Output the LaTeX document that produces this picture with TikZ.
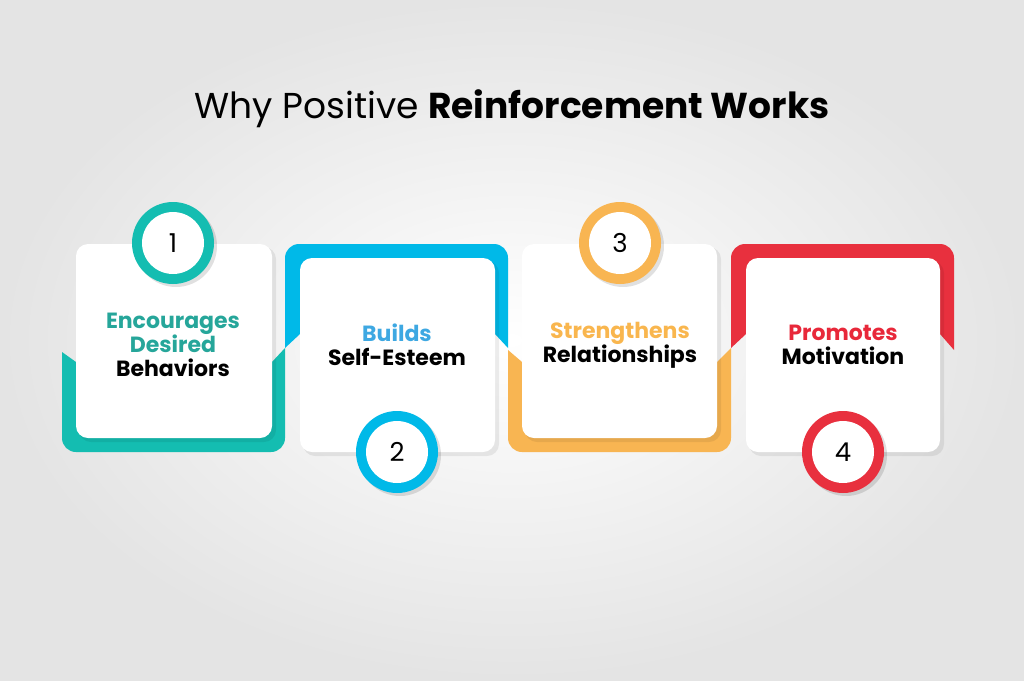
\documentclass[tikz,border=0pt]{standalone}
\usepackage{fontspec}
\setmainfont{Poppins}
\definecolor{cteal}{HTML}{14BDB1}
\definecolor{tteal}{HTML}{26A69A}
\definecolor{cblue}{HTML}{00B9E8}
\definecolor{tblue}{HTML}{3EA8E2}
\definecolor{corange}{HTML}{F8B552}
\definecolor{torange}{HTML}{F9B64E}
\definecolor{cred}{HTML}{E8303E}
\definecolor{tred}{HTML}{E8283A}
\definecolor{bgout}{HTML}{E4E4E4}
\tikzset{
  card/.style={fill=white,rounded corners=12pt},
  shad/.style={fill=black,opacity=0.07,rounded corners=12pt},
  lbl/.style={font=\bfseries\fontsize{22}{24}\selectfont,align=center,text=black},
  num/.style={circle,fill=white,minimum size=62pt,inner sep=0pt,font=\fontsize{26}{30}\selectfont},
}
\begin{document}
\begin{tikzpicture}[x=1pt,y=-1pt]
\shade[inner color=white,outer color=bgout] (0,0) rectangle (1024,680);
\useasboundingbox (0,0) rectangle (1024,680);
\node (title) at (512,109) {\fontsize{36}{42}\selectfont Why Positive \textbf{Reinforcement Works}};
% card 1 (bottom backing)
\fill[cteal] (62,352) [rounded corners=14pt] -- (62,452) -- (285,452) [sharp corners] -- (285,348) -- (272,362) -- (76,362) -- cycle;
\fill[shad] (79,247) rectangle (276,442);
\fill[card] (76,244) rectangle (272,438);
% card 2 (top backing)
\fill[cblue] (285,348) [rounded corners=14pt] -- (285,244) -- (508,244) [sharp corners] -- (508,348) -- (495,334) -- (300,334) -- cycle;
\fill[shad] (303,261) rectangle (499,456);
\fill[card] (300,258) rectangle (495,452);
% card 3
\fill[corange] (508,350) [rounded corners=14pt] -- (508,452) -- (731,452) [sharp corners] -- (731,348) -- (717,362) -- (522,362) -- cycle;
\fill[shad] (525,247) rectangle (721,442);
\fill[card] (522,244) rectangle (717,438);
% card 4
\fill[cred] (731,348) [rounded corners=14pt] -- (731,244) -- (954,244) [sharp corners] -- (954,350) -- (940,334) -- (746,334) -- cycle;
\fill[shad] (749,261) rectangle (944,456);
\fill[card] (746,258) rectangle (940,452);
% circles
\foreach \x/\y/\c/\n in {173/243/cteal/1,397/452/cblue/2,620/243/corange/3,843/452/cred/4}{
  \fill[black,opacity=0.12] (\x+3,\y+3) circle (41);
  \fill[\c] (\x,\y) circle (41);
  \node[num] (n\n) at (\x,\y) {\n};
}
\node[lbl] (t1) at (173,345) {\textcolor{tteal}{Encourages}\\\textcolor{tteal}{Desired}\\Behaviors};
\node[lbl] (t2) at (397,345) {\textcolor{tblue}{Builds}\\Self-Esteem};
\node[lbl] (t3) at (620,345) {\textcolor{torange}{Strengthens}\\Relationships};
\node[lbl] (t4) at (843,345) {\textcolor{tred}{Promotes}\\Motivation};
\end{tikzpicture}
\end{document}
